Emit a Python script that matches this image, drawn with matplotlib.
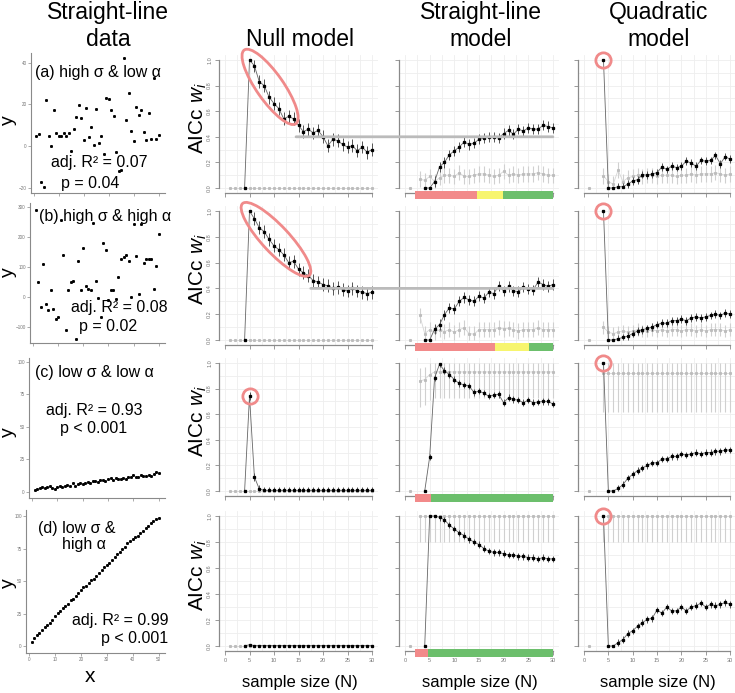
import numpy as np
import matplotlib.pyplot as plt
from matplotlib.patches import Ellipse, Rectangle, ConnectionPatch
from matplotlib.transforms import ScaledTranslation

plt.rcParams['font.family'] = ['Liberation Sans', 'DejaVu Sans']
plt.rcParams['mathtext.fontset'] = 'custom'
plt.rcParams['mathtext.it'] = 'Liberation Sans:italic'
plt.rcParams['mathtext.rm'] = 'Liberation Sans'

# ---- raw data (left column) ----
x_data = np.arange(1, 51)
y_a = [4.8, 5.6, -17.1, -19.7, 21.9, 4.8, 0.3, 17.3, 6.1, 4.8, 5.1, 6.4, 5.1, 6.1, -2.4,
       8.0, 14.1, 19.5, 13.3, 2.9, 18.2, 4.5, 9.4, 0.8, 17.8, 1.3, 5.1, -3.5, 23.2, 22.7,
       17.1, 14.4, -2.7, -12.0, -11.2, 42.1, 12.5, 25.3, 7.5, 2.4, 18.7, 14.7, 17.3, 6.9,
       2.9, 15.7, 3.5, 32.5, 3.5, 5.3]
y_b = [289, 50, -33, 111, -22, -42, 24, -39, -72, -67, 256, 141, -109, 24, 50, 52, -139,
       119, 22, 162, 36, 27, 24, 247, 52, -3, -67, 181, 158, -11, 24, 24, -6, 67, 128, 133,
       139, 120, -1, 244, 137, 11, 244, 113, 128, 125, 125, 28, 102, 209]
y_c = [1.2, 2.0, 2.8, 3.5, 2.9, 3.6, 4.4, 3.3, 2.6, 4.0, 5.0, 3.8, 4.6, 5.7, 5.0, 6.6, 4.6,
       5.9, 6.8, 6.2, 7.3, 7.8, 6.9, 8.2, 8.8, 7.5, 9.0, 9.6, 8.5, 10.0, 10.4, 9.2, 10.6,
       9.8, 9.9, 10.8, 9.7, 11.2, 11.8, 12.7, 11.3, 11.9, 13.0, 12.4, 12.1, 13.1, 12.6,
       13.8, 15.7, 14.6]
y_d = [3.1, 6.5, 8.3, 10.1, 12.1, 14.7, 16.0, 17.8, 20.4, 23.0, 25.1, 27.1, 29.7, 30.7,
       32.8, 35.4, 36.4, 38.5, 40.6, 43.2, 45.2, 46.3, 48.3, 50.9, 51.9, 54.0, 56.1, 58.7,
       60.7, 62.3, 64.3, 66.4, 69.0, 71.1, 72.9, 74.7, 76.7, 79.3, 81.4, 82.4, 84.5, 85.0,
       87.1, 88.6, 91.0, 92.8, 94.8, 96.5, 97.9, 99.0]
data_y = [y_a, y_b, y_c, y_d]
data_yticks = [[-20, 0, 20, 40], [-100, 0, 100, 200, 300],
               [0, 25, 50, 75, 100], [0, 25, 50, 75, 100]]
data_ylim = [(-22.4, 44.6), (-153, 313), (-4.6, 103), (-5.4, 105)]
panel_lab = ['(a) high σ & low α', '(b) high σ & high α', '(c) low σ & low α', None]
r2_lab = ['adj. R² = 0.07', 'adj. R² = 0.08', 'adj. R² = 0.93', 'adj. R² = 0.99']
p_lab = ['p = 0.04', 'p = 0.02', 'p < 0.001', 'p < 0.001']

# ---- AICc weights (black: focal model, N = 4..30; grey: other, N = 1..30) ----
N_black = np.arange(4, 31)
N_all = np.arange(1, 31)
nan = np.nan

null_w = [
    [0, 1.0, 0.955, 0.83, 0.80, 0.71, 0.66, 0.62, 0.54, 0.56, 0.54, 0.49, 0.44, 0.46, 0.43,
     0.45, 0.40, 0.33, 0.38, 0.37, 0.34, 0.32, 0.33, 0.29, 0.32, 0.28, 0.30],
    [0, 1.0, 0.94, 0.87, 0.84, 0.78, 0.73, 0.70, 0.66, 0.60, 0.61, 0.55, 0.52, 0.50, 0.46,
     0.45, 0.43, 0.42, 0.40, 0.41, 0.39, 0.38, 0.40, 0.38, 0.37, 0.36, 0.37],
    [0, 0.74, 0.11, 0.015] + [0.005] * 23,
    [0, 0.01] + [0.003] * 25,
]
line_w = [
    [0, 0, 0.05, 0.165, 0.20, 0.26, 0.29, 0.32, 0.36, 0.34, 0.35, 0.38, 0.39, 0.40, 0.40,
     0.39, 0.425, 0.45, 0.42, 0.46, 0.445, 0.47, 0.46, 0.46, 0.49, 0.48, 0.47],
    [0, 0, 0.083, 0.12, 0.195, 0.25, 0.24, 0.30, 0.33, 0.31, 0.30, 0.34, 0.325, 0.37, 0.36,
     0.42, 0.38, 0.415, 0.38, 0.375, 0.41, 0.395, 0.39, 0.45, 0.43, 0.415, 0.43],
    [0, 0.265, 0.885, 0.99, 0.94, 0.91, 0.87, 0.84, 0.83, 0.82, 0.77, 0.78, 0.765, 0.74,
     0.75, 0.755, 0.69, 0.73, 0.715, 0.71, 0.69, 0.71, 0.69, 0.695, 0.70, 0.70, 0.68],
    [0, 1.0, 1.0, 0.99, 0.97, 0.93, 0.90, 0.87, 0.85, 0.82, 0.80, 0.78, 0.75, 0.73, 0.72,
     0.72, 0.71, 0.70, 0.70, 0.69, 0.69, 0.68, 0.68, 0.67, 0.68, 0.67, 0.67],
]
quad_w = [
    [1.0, 0, 0, 0.01, 0.01, 0.03, 0.055, 0.065, 0.105, 0.10, 0.11, 0.12, 0.165, 0.145, 0.17,
     0.16, 0.17, 0.21, 0.195, 0.17, 0.215, 0.21, 0.215, 0.255, 0.19, 0.245, 0.225],
    [1.0, 0, 0, 0.01, 0.02, 0.03, 0.05, 0.07, 0.08, 0.09, 0.10, 0.12, 0.13, 0.13, 0.15,
     0.15, 0.16, 0.15, 0.17, 0.18, 0.17, 0.18, 0.19, 0.20, 0.19, 0.21, 0.20],
    [1.0, 0, 0, 0.02, 0.05, 0.10, 0.13, 0.16, 0.18, 0.20, 0.22, 0.22, 0.25, 0.25, 0.27,
     0.27, 0.29, 0.28, 0.29, 0.30, 0.29, 0.30, 0.30, 0.31, 0.31, 0.32, 0.32],
    [1.0, 0, 0, 0.026, 0.05, 0.096, 0.117, 0.153, 0.18, 0.205, 0.213, 0.278, 0.252, 0.30,
     0.27, 0.27, 0.30, 0.27, 0.30, 0.31, 0.33, 0.30, 0.32, 0.31, 0.32, 0.335, 0.32],
]
null_grey = [[0.0] * 30] * 4
line_grey = [
    [0, nan, 0.07, 0.06, 0.09, 0.05, 0.08, 0.10, 0.10, 0.09, 0.12, 0.09, 0.09, 0.10, 0.11,
     0.11, 0.10, 0.09, 0.10, 0.13, 0.10, 0.11, 0.10, 0.11, 0.11, 0.11, 0.12, 0.11, 0.10, 0.10],
    [0, nan, 0.19, 0.05, 0.08, 0.06, 0.08, 0.065, 0.08, 0.06, 0.08, 0.095, 0.05, 0.045, 0.08,
     0.08, 0.08, 0.08, 0.095, 0.085, 0.09, 0.08, 0.07, 0.08, 0.08, 0.08, 0.095, 0.08, 0.08, 0.08],
    [0, nan, 0.86, 0.87, 0.91] + [0.93] * 25,
    [0, nan] + [1.0] * 28,
]
quad_grey = [
    [0, nan, nan, 0.095, 0.05, 0.03, 0.14, 0.05, 0.08, 0.09, 0.10, 0.09, 0.10, 0.10, 0.09,
     0.10, 0.10, 0.10, 0.09, 0.10, 0.10, 0.11, 0.10, 0.11, 0.11, 0.11, 0.12, 0.11, 0.10, 0.11],
    [0, nan, nan, 0.10, 0.06, 0.05, 0.06, 0.07, 0.06, 0.07, 0.08, 0.07, 0.07, 0.08, 0.07,
     0.08, 0.07, 0.08, 0.08, 0.07, 0.08, 0.08, 0.07, 0.08, 0.07, 0.08, 0.08, 0.08, 0.07, 0.08],
    [0, nan, nan] + [0.92] * 27,
    [0, nan, nan] + [1.0] * 27,
]
black_err = [[0.05, 0.05, 0.03, 0.0], [0.04, 0.04, 0.025, 0.025], [0.03, 0.03, 0.025, 0.025]]
grey_err = [  # (below, above) half-widths
    [(0, 0)] * 4,
    [(0.06, 0.06), (0.06, 0.06), (0.2, 0.1), (0.2, 0.0)],
    [(0.06, 0.06), (0.05, 0.05), (0.3, 0.08), (0.2, 0.0)],
]
weights = [null_w, line_w, quad_w]
greys = [null_grey, line_grey, quad_grey]

# support bars under the straight-line model
RED_B, YEL_B, GRN_B = '#f28a8a', '#f7f56e', '#6cbf6c'
support = [
    [(2, 14.7, RED_B), (14.7, 19.8, YEL_B), (19.8, 30, GRN_B)],
    [(2, 18.2, RED_B), (18.2, 25.2, YEL_B), (25.2, 30, GRN_B)],
    [(2, 5.3, RED_B), (5.3, 30, GRN_B)],
    [(2, 4.7, RED_B), (4.7, 30, GRN_B)],
]

W, H = 735, 693
fig = plt.figure(figsize=(W / 100, H / 100), dpi=100)
RED = '#f08a8a'
AX_C = '#8a8a8a'
TICK_C = '#777777'


def px_axes(left, top, right, bottom):
    return fig.add_axes([left / W, 1 - bottom / H, (right - left) / W, (bottom - top) / H])


def ftext(x, y, s, **kw):
    return fig.text(x / W, 1 - y / H, s, **kw)


# ---- left column: raw data ----
data_box = [(31, 53, 165, 193), (30, 203, 165, 343), (29, 358, 165, 498), (26, 510, 165, 653)]
for i in range(4):
    ax = px_axes(*data_box[i])
    ax.plot(x_data, data_y[i], 's', ms=1.1, color='black')
    ax.set_xlim(-1.2, 52.5)
    ax.set_ylim(*data_ylim[i])
    ax.set_yticks(data_yticks[i])
    ax.set_xticks(range(0, 51, 10))
    for s in ['top', 'right']:
        ax.spines[s].set_visible(False)
    for s in ['left', 'bottom']:
        ax.spines[s].set_color(AX_C)
        ax.spines[s].set_linewidth(0.8)
    ax.tick_params(length=2, width=0.5, color=AX_C, labelsize=3.3, labelcolor=TICK_C, pad=1)
    if i < 3:
        ax.set_xticklabels([])

ylab_y = [120, 272, 432, 583]
for yy in ylab_y:
    ftext(8.5, yy, 'y', fontsize=14, rotation=90, ha='center', va='center')
ftext(90, 677, 'x', fontsize=15, ha='center', va='center')

FS = 11.5
ftext(98, 72, panel_lab[0], fontsize=FS, ha='center', va='center')
ftext(99, 163, r2_lab[0], fontsize=FS, ha='center', va='center')
ftext(90, 183, p_lab[0], fontsize=FS, ha='center', va='center')
ftext(105, 217, panel_lab[1], fontsize=FS, ha='center', va='center')
ftext(119, 307, r2_lab[1], fontsize=FS, ha='center', va='center')
ftext(108, 327, p_lab[1], fontsize=FS, ha='center', va='center')
ftext(94, 373, panel_lab[2], fontsize=FS, ha='center', va='center')
ftext(94, 410, r2_lab[2], fontsize=FS, ha='center', va='center')
ftext(94, 428, p_lab[2], fontsize=FS, ha='center', va='center')
ftext(115, 528, '(d) low σ &', fontsize=FS, ha='right', va='center')
ftext(106, 545, 'high α', fontsize=FS, ha='right', va='center')
ftext(168, 621, r2_lab[3], fontsize=FS, ha='right', va='center')
ftext(168, 638, p_lab[3], fontsize=FS, ha='right', va='center')

# ---- titles ----
TS = 16.5
ftext(108, 19, 'Straight-line', fontsize=TS, ha='center', va='baseline')
ftext(108, 46, 'data', fontsize=TS, ha='center', va='baseline')
ftext(300, 46, 'Null model', fontsize=TS, ha='center', va='baseline')
ftext(481, 19, 'Straight-line', fontsize=TS, ha='center', va='baseline')
ftext(481, 46, 'model', fontsize=TS, ha='center', va='baseline')
ftext(659, 19, 'Quadratic', fontsize=TS, ha='center', va='baseline')
ftext(659, 46, 'model', fontsize=TS, ha='center', va='baseline')

# ---- model weight panels ----
col_x0 = [225, 405, 584]
col_s = [4.9, 4.93, 4.87]
row_y1 = [60, 211, 363, 516]
row_y0 = [188, 340, 491, 646]
axes = [[None] * 3 for _ in range(4)]

for r in range(4):
    for c in range(3):
        s = col_s[c]
        hgt = row_y0[r] - row_y1[r]
        ax = px_axes(col_x0[c] - 1.2 * s, row_y1[r] - 0.04 * hgt,
                     col_x0[c] + 31.2 * s, row_y0[r] + 0.04 * hgt)
        axes[r][c] = ax
        ax.set_xlim(-1.2, 31.2)
        ax.set_ylim(-0.04, 1.04)
        ax.set_xticks(range(0, 31, 5))
        ax.set_yticks(np.arange(0, 1.01, 0.2))
        ax.set_yticks(np.arange(0.1, 1.0, 0.2), minor=True)
        ax.set_xticks(np.arange(2.5, 30, 5), minor=True)
        ax.grid(True, which='both', color='#eeeeee', lw=0.6)
        ax.set_axisbelow(True)
        for sp in ['top', 'right']:
            ax.spines[sp].set_visible(False)
        ax.spines['left'].set_bounds(0, 1)
        ax.spines['bottom'].set_bounds(0, 30)
        for sp in ['left', 'bottom']:
            ax.spines[sp].set_color(AX_C)
            ax.spines[sp].set_linewidth(0.9)
        ax.tick_params(which='major', length=3, width=0.6, color=AX_C, labelsize=4,
                       labelcolor=TICK_C, pad=2)
        ax.tick_params(which='minor', length=0)
        ax.set_yticklabels(['0.0', '0.2', '0.4', '0.6', '0.8', '1.0'] if c == 0 else [])
        if c == 0:
            ax.tick_params(axis='y', labelrotation=90)
            for lab in ax.get_yticklabels():
                lab.set_va('center')
        if r < 3:
            ax.set_xticklabels([])

        # grey (alternative) weights
        g = np.array(greys[c][r], dtype=float)
        lo, hi = grey_err[c][r]
        ax.plot(N_all, g, color='#d6d6d6', lw=0.6, zorder=2)
        if lo or hi:
            gl = np.clip(g - lo, 0, 1)
            gh = np.clip(g + hi, 0, 1)
            ax.vlines(N_all[2:], gl[2:], gh[2:], color='#d0d0d0', lw=0.8, zorder=2)
        ax.plot(N_all, g, 's', ms=1.2, color='#bdbdbd', zorder=3)

        # black (focal) weights
        b = np.array(weights[c][r], dtype=float)
        e = black_err[c][r]
        inner = (b > 0.001) & (b < 0.999)
        ax.plot(N_black, b, color='#666666', lw=0.6, zorder=4)
        ax.vlines(N_black[inner], np.clip(b[inner] - e, 0, 1), np.clip(b[inner] + e, 0, 1),
                  color='#555555', lw=0.7, zorder=4)
        ax.plot(N_black, b, 's', ms=1.4, color='black', zorder=5)

        if c == 1:
            for (a0, a1, colr) in support[r]:
                ax.add_patch(Rectangle((a0, -0.088), a1 - a0, 0.068, color=colr,
                                       clip_on=False, zorder=2.6, lw=0))

    ftext(198, (row_y0[r] + row_y1[r]) / 2 - 6, 'AICc $w_i$', fontsize=15, rotation=90,
          ha='center', va='center')

for c, xc in enumerate([300, 480, 658]):
    ftext(xc, 683, 'sample size (N)', fontsize=12, ha='center', va='center')

# ---- highlights ----
for r in range(4):
    axes[r][2].plot([4], [quad_w[r][0]], 'o', ms=11, mfc='none', mec=RED, mew=2,
                    clip_on=False, zorder=6)
axes[2][0].plot([5], [null_w[2][1]], 'o', ms=11, mfc='none', mec=RED, mew=2, zorder=6)


def px_ellipse(ax, cx, cy, w_px, h_px, angle):
    tr = fig.dpi_scale_trans + ScaledTranslation(cx, cy, ax.transData)
    ax.add_patch(Ellipse((0, 0), w_px / 100, h_px / 100, angle=angle, transform=tr,
                         fill=False, ec=RED, lw=2, clip_on=False, zorder=6))


px_ellipse(axes[0][0], 9.2, 0.79, 90, 27, -55)
px_ellipse(axes[1][0], 10.4, 0.78, 98, 27, -47)

# 0.4 reference lines spanning null and straight-line panels
for r, start in [(0, 14.5), (1, 17.5)]:
    con = ConnectionPatch(xyA=(start, 0.4), coordsA=axes[r][0].transData,
                          xyB=(30, 0.4), coordsB=axes[r][1].transData,
                          color='#bbbbbb', lw=2, zorder=3)
    fig.add_artist(con)

fig.savefig('out.png', dpi=100)
